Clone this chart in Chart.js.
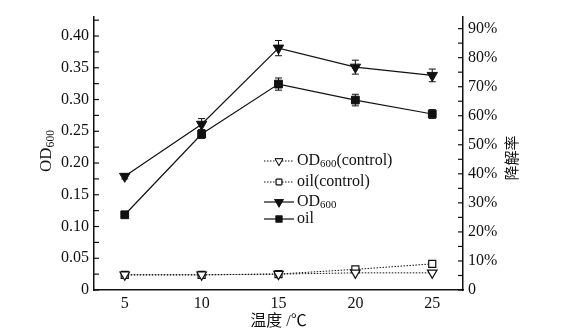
<!DOCTYPE html>
<html>
<head>
<meta charset="utf-8">
<script src="https://cdn.jsdelivr.net/npm/chart.js@4.4.0/dist/chart.umd.min.js"></script>
<style>
  body { margin: 0; background: #fff; }
  canvas { display: block; }
</style>
</head>
<body>
<canvas id="plot" width="563" height="336"></canvas>
<script>
// datos
const temps = [5, 10, 15, 20, 25];
const od600 = [0.179, 0.261, 0.381, 0.351, 0.338];
const od600Err = [0.004, 0.009, 0.012, 0.011, 0.010];
const oil = [25.9, 53.7, 70.9, 65.4, 60.6];
const oilErr = [0.5, 1.5, 2.1, 2.0, 1.5];
const od600Control = [0.024, 0.024, 0.025, 0.027, 0.027];
const oilControl = [5.2, 5.2, 5.5, 7.1, 9.0];

const leftTicks = [0, 0.025, 0.05, 0.075, 0.1, 0.125, 0.15, 0.175, 0.2, 0.225, 0.25, 0.275, 0.3, 0.325, 0.35, 0.375, 0.4, 0.425];
const rightTicks = [0, 5, 10, 15, 20, 25, 30, 35, 40, 45, 50, 55, 60, 65, 70, 75, 80, 85, 90];

const serif = '"Liberation Serif", "Noto Sans CJK SC", serif';

let puntos = (ys) => temps.map((t, i) => ({ x: t, y: ys[i] }));

let datasets = [
  {
    label: "OD_600(control)",
    data: puntos(od600Control),
    yAxisID: "y",
    borderColor: "#111",
    borderWidth: 1,
    borderDash: [1.5, 1.5],
    pointStyle: "triangle",
    rotation: 180,
    pointRadius: 5.5,
    pointBackgroundColor: "#fff",
    pointBorderColor: "#111",
    pointBorderWidth: 1.2,
  },
  {
    label: "oil(control)",
    data: puntos(oilControl),
    yAxisID: "y1",
    borderColor: "#111",
    borderWidth: 1,
    borderDash: [1.5, 1.5],
    pointStyle: "rect",
    pointRadius: 5,
    pointBackgroundColor: "#fff",
    pointBorderColor: "#111",
    pointBorderWidth: 1.2,
  },
  {
    label: "OD_600",
    data: puntos(od600),
    err: od600Err,
    yAxisID: "y",
    borderColor: "#111",
    borderWidth: 1.2,
    pointStyle: "triangle",
    rotation: 180,
    pointRadius: 6,
    pointBackgroundColor: "#111",
    pointBorderColor: "#111",
    pointBorderWidth: 1,
  },
  {
    label: "oil",
    data: puntos(oil),
    err: oilErr,
    yAxisID: "y1",
    borderColor: "#111",
    borderWidth: 1.2,
    pointStyle: "rect",
    pointRadius: 5.5,
    pointBackgroundColor: "#111",
    pointBorderColor: "#111",
    pointBorderWidth: 1,
  },
];

// texto con subindice: "OD_600" -> OD + 600 pequeño
let textoSub = (ctx, texto, x, y, size) => {
  let partes = texto.split("_");
  ctx.font = `${size}px ${serif}`;
  ctx.fillText(partes[0], x, y);
  let w = ctx.measureText(partes[0]).width;
  if (partes.length > 1) {
    let m = partes[1].match(/^(\d+)(.*)$/);
    ctx.font = `${size * 0.68}px ${serif}`;
    ctx.fillText(m[1], x + w, y + size * 0.22);
    let w2 = ctx.measureText(m[1]).width;
    ctx.font = `${size}px ${serif}`;
    ctx.fillText(m[2], x + w + w2, y);
    w += w2 + ctx.measureText(m[2]).width;
  }
  return w;
};

let anchoSub = (ctx, texto, size) => {
  let partes = texto.split("_");
  ctx.font = `${size}px ${serif}`;
  let w = ctx.measureText(partes[0]).width;
  if (partes.length > 1) {
    let m = partes[1].match(/^(\d+)(.*)$/);
    ctx.font = `${size * 0.68}px ${serif}`;
    w += ctx.measureText(m[1]).width;
    ctx.font = `${size}px ${serif}`;
    w += ctx.measureText(m[2]).width;
  }
  return w;
};

const extras = {
  id: "extras",
  afterDatasetsDraw(chart) {
    let ctx = chart.ctx;
    ctx.save();
    ctx.strokeStyle = "#111";
    ctx.lineWidth = 1;
    chart.data.datasets.forEach((ds) => {
      if (!ds.err) return;
      let ys = chart.scales[ds.yAxisID];
      let xs = chart.scales.x;
      ds.data.forEach((p, i) => {
        let px = xs.getPixelForValue(p.x);
        let top = ys.getPixelForValue(p.y + ds.err[i]);
        let bot = ys.getPixelForValue(p.y - ds.err[i]);
        ctx.beginPath();
        ctx.moveTo(px, top);
        ctx.lineTo(px, bot);
        ctx.moveTo(px - 3.5, top);
        ctx.lineTo(px + 3.5, top);
        ctx.moveTo(px - 3.5, bot);
        ctx.lineTo(px + 3.5, bot);
        ctx.stroke();
      });
    });
    ctx.restore();
  },
  afterDraw(chart) {
    let ctx = chart.ctx;
    let area = chart.chartArea;
    ctx.save();
    ctx.strokeStyle = "#111";
    ctx.fillStyle = "#111";
    ctx.lineWidth = 1.2;

    // marcas hacia adentro
    leftTicks.forEach((v) => {
      let y = chart.scales.y.getPixelForValue(v);
      ctx.beginPath();
      ctx.moveTo(area.left, y);
      ctx.lineTo(area.left + 5, y);
      ctx.stroke();
    });
    rightTicks.forEach((v) => {
      let y = chart.scales.y1.getPixelForValue(v);
      ctx.beginPath();
      ctx.moveTo(area.right, y);
      ctx.lineTo(area.right - 5, y);
      ctx.stroke();
    });

    // titulo eje x
    ctx.textAlign = "center";
    ctx.textBaseline = "middle";
    ctx.font = `16px ${serif}`;
    ctx.fillText("温度 /℃", (area.left + area.right) / 2, 322);

    // titulo eje izquierdo
    ctx.save();
    ctx.translate(47, 151);
    ctx.rotate(-Math.PI / 2);
    ctx.textAlign = "left";
    let w = anchoSub(ctx, "OD_600", 17);
    textoSub(ctx, "OD_600", -w / 2, 0, 17);
    ctx.restore();

    // titulo eje derecho
    ctx.save();
    ctx.translate(511, 158);
    ctx.rotate(-Math.PI / 2);
    ctx.textAlign = "center";
    ctx.font = `15px "Noto Sans CJK SC", sans-serif`;
    ctx.fillText("降解率", 0, 0);
    ctx.restore();

    // leyenda
    let filas = [161, 182, 202, 219];
    chart.data.datasets.forEach((ds, i) => {
      let y = filas[i];
      ctx.lineWidth = ds.borderWidth;
      ctx.setLineDash(ds.borderDash || []);
      ctx.beginPath();
      ctx.moveTo(264, y);
      ctx.lineTo(294, y);
      ctx.stroke();
      ctx.setLineDash([]);
      Chart.helpers.drawPoint(ctx, {
        pointStyle: ds.pointStyle,
        rotation: ds.rotation || 0,
        radius: ds.pointStyle === "rect" ? 4 : 4.5,
        borderWidth: 1,
      }, 279, y);
      ctx.fillStyle = ds.pointBackgroundColor;
      ctx.fill();
      ctx.stroke();
      ctx.fillStyle = "#111";
      ctx.textAlign = "left";
      textoSub(ctx, ds.label, 297, y, 16);
    });
    ctx.restore();
  },
};

let plotRef = document.getElementById("plot");

let config = {
  type: "line",
  data: { datasets: datasets },
  options: {
    responsive: false,
    animation: false,
    layout: { padding: { top: 17 } },
    plugins: { legend: { display: false }, tooltip: { enabled: false } },
    scales: {
      x: {
        type: "linear",
        min: 3,
        max: 27,
        afterFit: (s) => { s.height = 46; },
        afterBuildTicks: (s) => { s.ticks = temps.map((v) => ({ value: v })); },
        grid: { display: false, drawTicks: false },
        border: { display: true, color: "#111", width: 1.5 },
        ticks: { color: "#111", padding: 4, font: { family: serif, size: 16 } },
      },
      y: {
        position: "left",
        min: 0,
        max: 0.43,
        afterFit: (s) => { s.width = 94; },
        afterBuildTicks: (s) => { s.ticks = leftTicks.map((v) => ({ value: v })); },
        grid: { display: false, drawTicks: false },
        border: { display: true, color: "#111", width: 1.5 },
        ticks: {
          color: "#111",
          padding: 5,
          font: { family: serif, size: 16 },
          callback: (v) => {
            let r = v / 0.05;
            if (Math.abs(r - Math.round(r)) > 1e-6) return "";
            return v === 0 ? "0" : v.toFixed(2);
          },
        },
      },
      y1: {
        position: "right",
        min: 0,
        max: 94,
        afterFit: (s) => { s.width = 100; },
        afterBuildTicks: (s) => { s.ticks = rightTicks.map((v) => ({ value: v })); },
        grid: { display: false, drawTicks: false },
        border: { display: true, color: "#111", width: 1.5 },
        ticks: {
          color: "#111",
          padding: 5,
          font: { family: serif, size: 16 },
          callback: (v) => {
            if (v % 10 !== 0) return "";
            return v === 0 ? "0" : v + "%";
          },
        },
      },
    },
  },
  plugins: [extras],
};

let chart1 = new Chart(plotRef, config);
</script>
</body>
</html>
